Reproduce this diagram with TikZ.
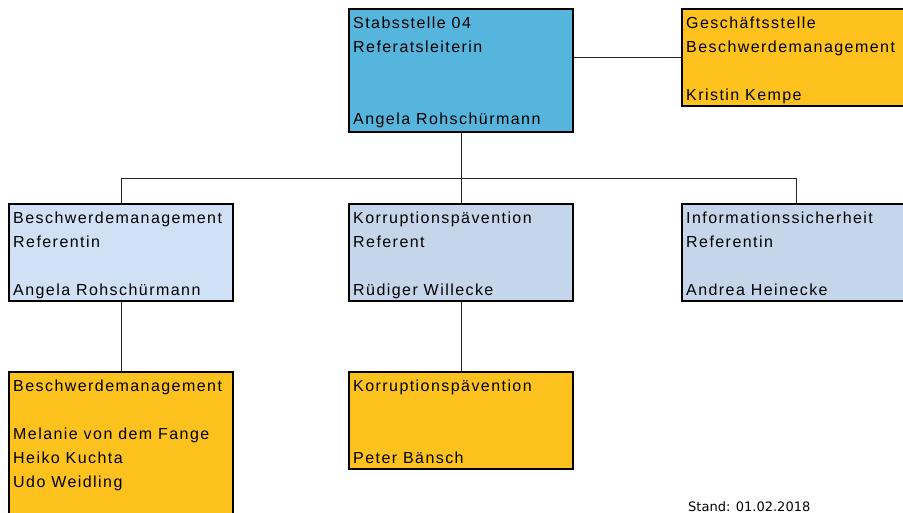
\documentclass[tikz,border=0pt]{standalone}
\usepackage{fontspec}
\setmainfont{Liberation Sans}[LetterSpace=9]
\newfontfamily\standfont{DejaVu Sans}
\usetikzlibrary{positioning}
\definecolor{leitblau}{RGB}{86,181,221}
\definecolor{orgaorange}{RGB}{253,194,29}
\definecolor{hellblau}{RGB}{209,225,245}
\definecolor{graublau}{RGB}{198,214,234}
\begin{document}
\begin{tikzpicture}[x=1pt, y=-1pt,
	box/.style={draw=black, line width=2.4pt, minimum width=224pt, minimum height=97pt, inner sep=0pt, anchor=north west},
	txt/.style={inner sep=0pt, align=left, font=\fontsize{16}{24}\selectfont},
	conn/.style={line width=1pt, black!85}]
	\useasboundingbox (0,0) rectangle (903,513);
	\clip (0,0) rectangle (903,513);

	\node[box, fill=leitblau, minimum height=123pt] (leit) at (348,8) {};
	\node[box, fill=orgaorange, minimum width=228pt] (gs) at (681,8) {};
	\node[box, fill=hellblau] (beschw) at (8,203) {};
	\node[box, fill=graublau] (korr) at (348,203) {};
	\node[box, fill=graublau, minimum width=228pt] (info) at (681,203) {};
	\node[box, fill=orgaorange, minimum height=150pt] (beschwteam) at (8,371) {};
	\node[box, fill=orgaorange] (korrteam) at (348,371) {};

	\node[txt, below right=9pt and 5pt of leit.north west] {Stabsstelle 04\\Referatsleiterin\\[48pt]Angela Rohschürmann};
	\node[txt, below right=9pt and 5pt of gs.north west] {Geschäftsstelle\\Beschwerdemanagement\\[24pt]Kristin Kempe};
	\node[txt, below right=9pt and 5pt of beschw.north west] {Beschwerdemanagement\\Referentin\\[24pt]Angela Rohschürmann};
	\node[txt, below right=9pt and 5pt of korr.north west] {Korruptionspävention\\Referent\\[24pt]Rüdiger Willecke};
	\node[txt, below right=9pt and 5pt of info.north west] {Informationssicherheit\\Referentin\\[24pt]Andrea Heinecke};
	\node[txt, below right=9pt and 5pt of beschwteam.north west] {Beschwerdemanagement\\[24pt]Melanie von dem Fange\\Heiko Kuchta\\Udo Weidling};
	\node[txt, below right=9pt and 5pt of korrteam.north west] {Korruptionspävention\\[48pt]Peter Bänsch};

	\node[anchor=base west, inner sep=0pt, font=\standfont\fontsize{13}{15}\selectfont] (stand) at (688,511) {Stand: 01.02.2018};

	\coordinate (bar) at (0,179);
	\draw[conn] (gs.west) -- (gs.west -| leit.east);
	\draw[conn] (leit.south) -- (korr.north);
	\draw[conn] (beschw.north) -- (beschw.north |- bar) -- (info.north |- bar) -- (info.north);
	\draw[conn] (beschw.south) -- (beschwteam.north);
	\draw[conn] (korr.south) -- (korrteam.north);
\end{tikzpicture}
\end{document}
